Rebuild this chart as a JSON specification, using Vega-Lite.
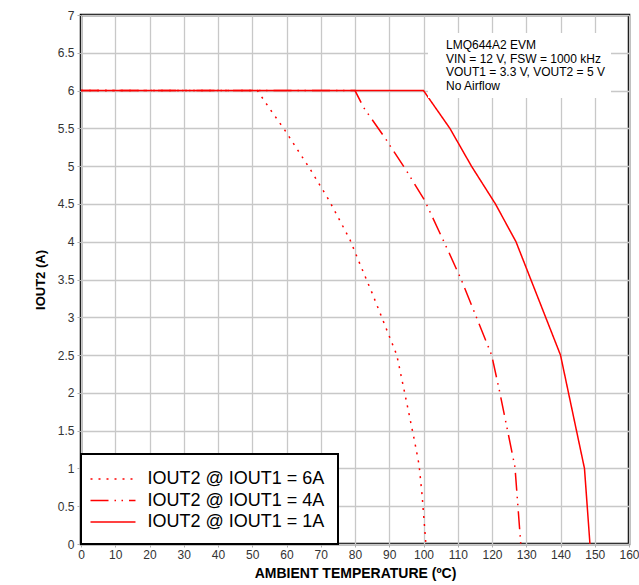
{
  "$schema": "https://vega.github.io/schema/vega-lite/v6.json",
  "width": 548,
  "height": 529,
  "autosize": {"type": "none"},
  "padding": {"left": 81, "top": 15, "right": 10, "bottom": 41},
  "background": "white",
  "config": {
    "font": "Liberation Sans",
    "view": {"stroke": "black", "strokeWidth": 2.5},
    "axis": {
      "domain": false,
      "grid": true,
      "gridColor": "#c8c8c8",
      "gridWidth": 1.3,
      "tickColor": "#b0b0b0",
      "labelColor": "#333333",
      "labelFont": "Liberation Sans",
      "labelFontSize": 12,
      "titleFont": "Liberation Sans",
      "titleFontWeight": "bold",
      "titleColor": "black"
    }
  },
  "layer": [
    {
      "data": {
        "values": [
          {"series": "IOUT2 @ IOUT1 = 6A", "t": 0, "i": 6},
          {"series": "IOUT2 @ IOUT1 = 6A", "t": 51.5, "i": 6},
          {"series": "IOUT2 @ IOUT1 = 6A", "t": 54.8, "i": 5.78},
          {"series": "IOUT2 @ IOUT1 = 6A", "t": 59.6, "i": 5.47},
          {"series": "IOUT2 @ IOUT1 = 6A", "t": 66.9, "i": 4.96},
          {"series": "IOUT2 @ IOUT1 = 6A", "t": 72.4, "i": 4.55},
          {"series": "IOUT2 @ IOUT1 = 6A", "t": 78.5, "i": 4.03},
          {"series": "IOUT2 @ IOUT1 = 6A", "t": 81.3, "i": 3.72},
          {"series": "IOUT2 @ IOUT1 = 6A", "t": 85, "i": 3.32},
          {"series": "IOUT2 @ IOUT1 = 6A", "t": 88.6, "i": 2.91},
          {"series": "IOUT2 @ IOUT1 = 6A", "t": 92.2, "i": 2.5},
          {"series": "IOUT2 @ IOUT1 = 6A", "t": 95.1, "i": 1.87},
          {"series": "IOUT2 @ IOUT1 = 6A", "t": 97.4, "i": 1.36},
          {"series": "IOUT2 @ IOUT1 = 6A", "t": 98.7, "i": 1.05},
          {"series": "IOUT2 @ IOUT1 = 6A", "t": 99.6, "i": 0.64},
          {"series": "IOUT2 @ IOUT1 = 6A", "t": 100.7, "i": 0},
          {"series": "IOUT2 @ IOUT1 = 4A", "t": 0, "i": 6},
          {"series": "IOUT2 @ IOUT1 = 4A", "t": 80, "i": 6},
          {"series": "IOUT2 @ IOUT1 = 4A", "t": 82.6, "i": 5.77},
          {"series": "IOUT2 @ IOUT1 = 4A", "t": 88.8, "i": 5.37},
          {"series": "IOUT2 @ IOUT1 = 4A", "t": 94.6, "i": 4.97},
          {"series": "IOUT2 @ IOUT1 = 4A", "t": 100.3, "i": 4.55},
          {"series": "IOUT2 @ IOUT1 = 4A", "t": 107.5, "i": 3.85},
          {"series": "IOUT2 @ IOUT1 = 4A", "t": 111.1, "i": 3.49},
          {"series": "IOUT2 @ IOUT1 = 4A", "t": 119.9, "i": 2.5},
          {"series": "IOUT2 @ IOUT1 = 4A", "t": 122.3, "i": 2.0},
          {"series": "IOUT2 @ IOUT1 = 4A", "t": 126.7, "i": 1.02},
          {"series": "IOUT2 @ IOUT1 = 4A", "t": 128.4, "i": 0},
          {"series": "IOUT2 @ IOUT1 = 1A", "t": 0, "i": 6},
          {"series": "IOUT2 @ IOUT1 = 1A", "t": 100, "i": 6},
          {"series": "IOUT2 @ IOUT1 = 1A", "t": 107.7, "i": 5.5},
          {"series": "IOUT2 @ IOUT1 = 1A", "t": 114, "i": 5.0},
          {"series": "IOUT2 @ IOUT1 = 1A", "t": 121, "i": 4.5},
          {"series": "IOUT2 @ IOUT1 = 1A", "t": 127, "i": 4.0},
          {"series": "IOUT2 @ IOUT1 = 1A", "t": 140, "i": 2.5},
          {"series": "IOUT2 @ IOUT1 = 1A", "t": 147, "i": 1.0},
          {"series": "IOUT2 @ IOUT1 = 1A", "t": 148.6, "i": 0}
        ]
      },
      "mark": {"type": "line", "color": "#ff0000", "strokeWidth": 1.5, "clip": true},
      "encoding": {
        "x": {
          "field": "t",
          "type": "quantitative",
          "scale": {"domain": [0, 160], "nice": false, "zero": false},
          "axis": {
            "values": [0, 10, 20, 30, 40, 50, 60, 70, 80, 90, 100, 110, 120, 130, 140, 150, 160],
            "title": "AMBIENT TEMPERATURE (ºC)",
            "titleFontSize": 14,
            "titlePadding": 6,
            "tickSize": 3,
            "labelPadding": 2,
            "labelFlush": false
          }
        },
        "y": {
          "field": "i",
          "type": "quantitative",
          "scale": {"domain": [0, 7], "nice": false},
          "axis": {
            "values": [0, 0.5, 1, 1.5, 2, 2.5, 3, 3.5, 4, 4.5, 5, 5.5, 6, 6.5, 7],
            "format": "~g",
            "title": "IOUT2 (A)",
            "titleFontSize": 13,
            "titlePadding": 10,
            "tickSize": 4,
            "labelPadding": 3
          }
        },
        "strokeDash": {
          "field": "series",
          "type": "nominal",
          "scale": {
            "domain": ["IOUT2 @ IOUT1 = 6A", "IOUT2 @ IOUT1 = 4A", "IOUT2 @ IOUT1 = 1A"],
            "range": [[2, 6], [18, 6, 1.5, 5.5, 1.5, 6], [1, 0]]
          },
          "legend": {
            "title": null,
            "orient": "bottom-left",
            "offset": 0,
            "fillColor": "white",
            "strokeColor": "black",
            "padding": 13,
            "rowPadding": 0.5,
            "labelFontSize": 18,
            "labelColor": "black",
            "labelLimit": 400,
            "labelOffset": 22.5,
            "symbolType": "M-2,0H2",
            "symbolSize": 506,
            "symbolOffset": 7,
            "symbolFillColor": "transparent",
            "symbolStrokeColor": "#ff0000",
            "symbolStrokeWidth": 1.5,
            "encode": {"legend": {"update": {"strokeWidth": {"value": 2}}}}
          }
        }
      }
    },
    {
      "data": {
        "values": [
          {"note": "LMQ644A2 EVM"},
          {"note": "VIN = 12 V, FSW = 1000 kHz"},
          {"note": "VOUT1 = 3.3 V, VOUT2 = 5 V"},
          {"note": "No Airflow"}
        ]
      },
      "mark": {"type": "point", "opacity": 0},
      "encoding": {
        "shape": {
          "field": "note",
          "type": "nominal",
          "sort": null,
          "legend": {
            "title": null,
            "orient": "top-right",
            "offset": 18,
            "fillColor": "white",
            "padding": 6,
            "rowPadding": 1.5,
            "labelFontSize": 12,
            "labelColor": "black",
            "labelLimit": 400,
            "labelOffset": 0,
            "symbolSize": 0,
            "symbolOpacity": 0
          }
        }
      }
    }
  ]
}
